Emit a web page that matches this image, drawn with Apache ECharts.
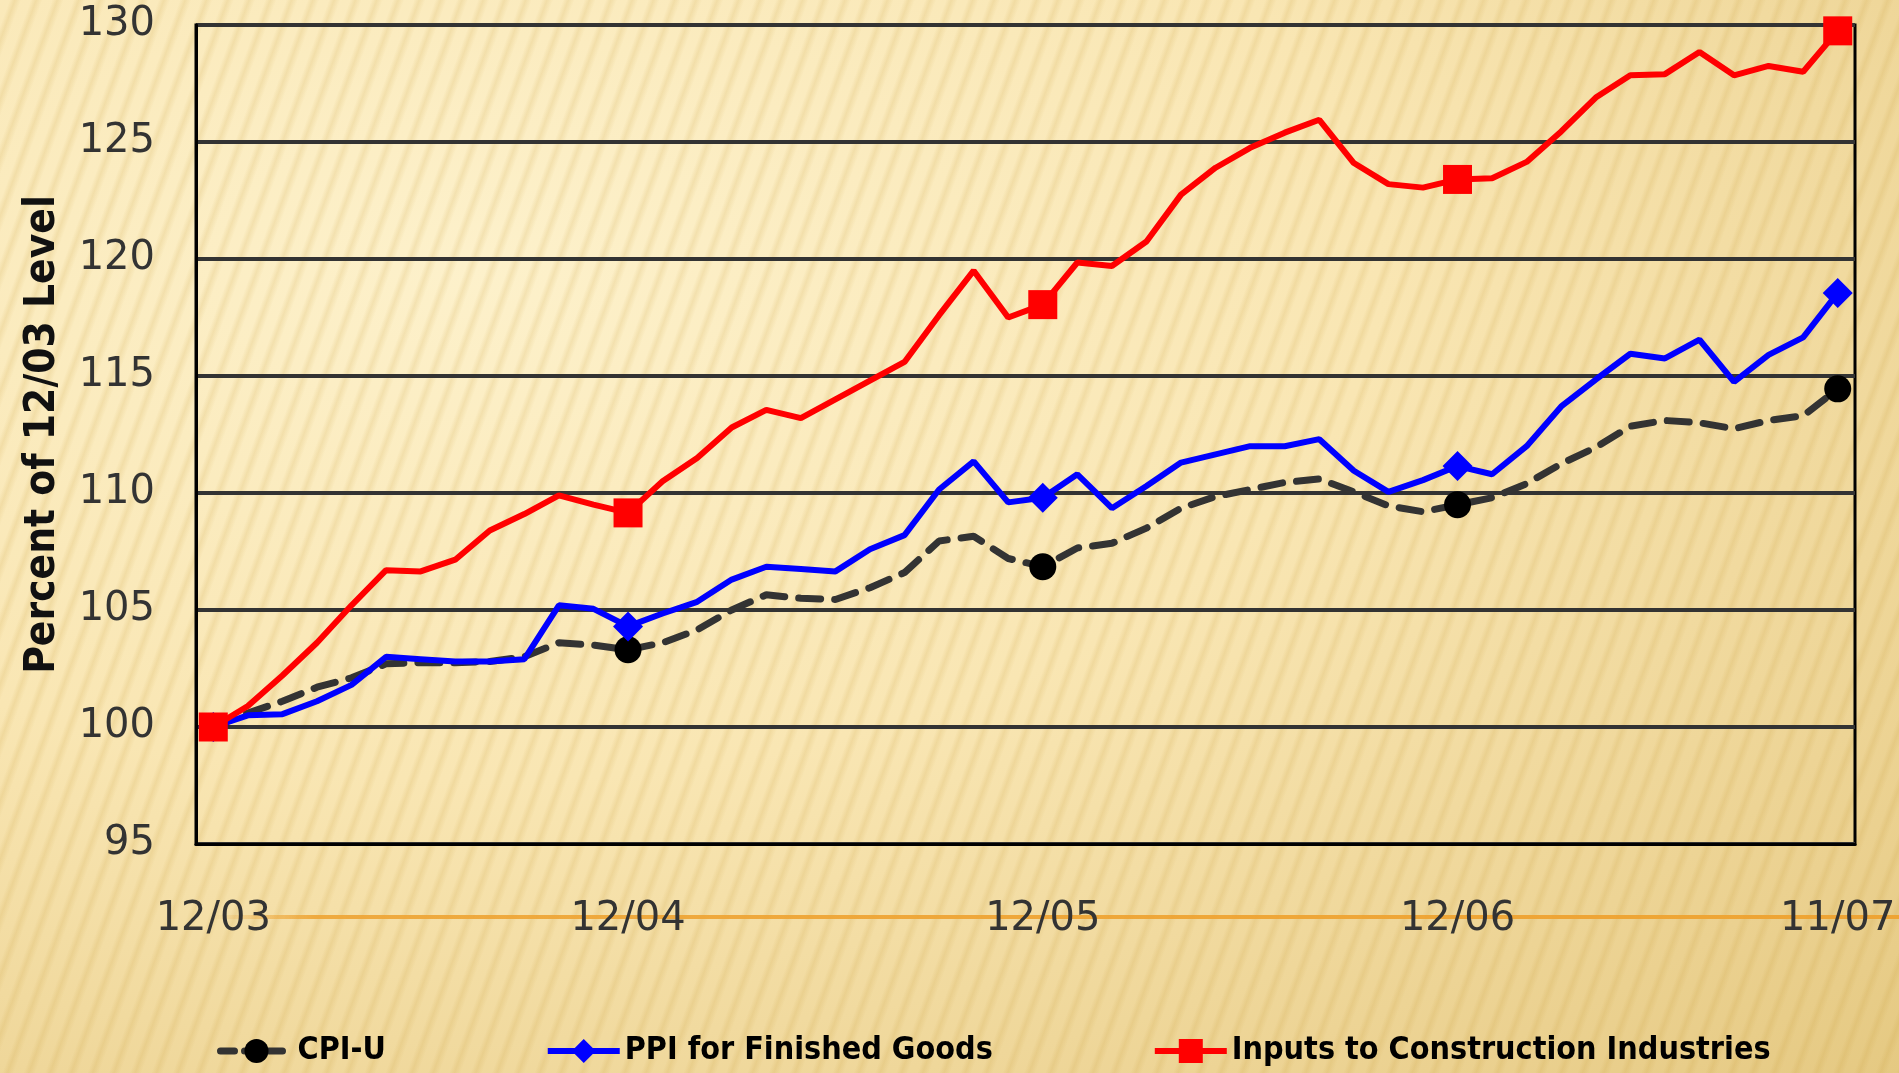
<!DOCTYPE html>
<html>
<head>
<meta charset="utf-8">
<title>Price indices since 12/03</title>
<script src="https://cdn.jsdelivr.net/npm/echarts@6.0.0/dist/echarts.min.js"></script>
<style>
	html, body { margin: 0; padding: 0; }
	#chart1 {
		width: 1899px;
		height: 1073px;
		background:
			repeating-linear-gradient(110deg, rgba(196,152,50,0) 0px, rgba(196,152,50,0) 9px, rgba(196,152,50,0.16) 14px, rgba(196,152,50,0) 20px),
			radial-gradient(ellipse at 25% 25%, #FDF1CB 0%, #F9E6B3 45%, #EBD190 85%, #E5C982 100%);
	}
</style>
</head>
<body>
<div id="chart1"></div>
<script>
// monthly, 12/03 .. 11/07
const months = [
	'12/03',
	'01/04', '02/04', '03/04', '04/04', '05/04', '06/04', '07/04', '08/04', '09/04', '10/04', '11/04', '12/04',
	'01/05', '02/05', '03/05', '04/05', '05/05', '06/05', '07/05', '08/05', '09/05', '10/05', '11/05', '12/05',
	'01/06', '02/06', '03/06', '04/06', '05/06', '06/06', '07/06', '08/06', '09/06', '10/06', '11/06', '12/06',
	'01/07', '02/07', '03/07', '04/07', '05/07', '06/07', '07/07', '08/07', '09/07', '10/07', '11/07'
];

const cpiU = [
	100, 100.6, 101.1, 101.7, 102.1, 102.7, 102.75, 102.75, 102.8, 103.0, 103.6, 103.5,
	103.3, 103.6, 104.15, 105.0, 105.65, 105.5, 105.45, 105.95, 106.6, 107.95, 108.15, 107.2,
	106.85, 107.65, 107.85, 108.5, 109.35, 109.85, 110.15, 110.45, 110.6, 110.05, 109.45, 109.2,
	109.5, 109.8, 110.4, 111.25, 111.95, 112.85, 113.1, 113.0, 112.75, 113.1, 113.3, 114.45
];

const ppiFinished = [
	100, 100.5, 100.55, 101.1, 101.8, 103.0, 102.9, 102.8, 102.8, 102.9, 105.2, 105.05,
	104.3, 104.85, 105.35, 106.3, 106.85, 106.75, 106.65, 107.6, 108.2, 110.15, 111.35, 109.6,
	109.8, 110.8, 109.35, 110.3, 111.3, 111.65, 112.0, 112.0, 112.3, 110.95, 110.05, 110.55,
	111.15, 110.8, 112.0, 113.7, 114.85, 115.95, 115.75, 116.55, 114.75, 115.9, 116.65, 118.55
];

const constructionInputs = [
	100, 100.9, 102.2, 103.6, 105.2, 106.7, 106.65, 107.15, 108.4, 109.1, 109.9, 109.5,
	109.15, 110.5, 111.5, 112.8, 113.55, 113.2, 114.0, 114.8, 115.6, 117.6, 119.5, 117.5,
	118.05, 119.85, 119.7, 120.75, 122.75, 123.9, 124.75, 125.4, 125.95, 124.1, 123.2, 123.05,
	123.4, 123.45, 124.15, 125.45, 126.9, 127.85, 127.9, 128.85, 127.85, 128.25, 128.0, 129.75
];

// points that get a marker and an x label
const markIdx = [0, 12, 24, 36, 47];

const narrowFont = "'DejaVu Sans Condensed', 'Liberation Sans Narrow', 'Liberation Sans', sans-serif";

const markerSize = (size) => (val, params) => markIdx.includes(params.dataIndex) ? size : 0;

const getOption = () => {
	return {
		backgroundColor: 'transparent',
		animation: false,
		grid: {
			left: 196,
			right: 44,
			top: 25,
			bottom: 229,
			show: true,
			borderColor: '#000',
			borderWidth: 3
		},
		graphic: [
			{
				// orange rule behind the date labels
				type: 'line',
				z: -10,
				shape: { x1: 215, y1: 917, x2: 1899, y2: 917 },
				style: {
					lineWidth: 4,
					stroke: new echarts.graphic.LinearGradient(0, 0, 1, 0, [
						{ offset: 0, color: 'rgba(238,164,52,0)' },
						{ offset: 0.06, color: 'rgba(238,164,52,0.9)' },
						{ offset: 1, color: 'rgba(238,164,52,1)' }
					])
				}
			}
		],
		legend: {
			left: 212,
			top: 1030,
			itemGap: 159,
			itemWidth: 72,
			itemHeight: 30,
			textStyle: {
				fontFamily: narrowFont,
				fontWeight: 'bold',
				fontSize: 32,
				color: '#000'
			},
			data: [
				{ name: 'CPI-U', lineStyle: { width: 7, type: [14, 10] } },
				{ name: 'PPI for Finished Goods', lineStyle: { width: 6 } },
				{ name: 'Inputs to Construction Industries', lineStyle: { width: 6 } }
			]
		},
		xAxis: {
			type: 'category',
			data: months,
			boundaryGap: true,
			axisLine: { lineStyle: { color: '#000', width: 3 } },
			axisTick: {
				interval: 5,
				length: 18,
				lineStyle: { color: '#000', width: 2 }
			},
			axisLabel: {
				interval: (i) => markIdx.includes(i),
				margin: 56,
				fontFamily: 'DejaVu Sans',
				fontSize: 40,
				color: '#333'
			},
			splitLine: { show: false }
		},
		yAxis: {
			type: 'value',
			min: 95,
			max: 130,
			interval: 5,
			name: 'Percent of 12/03 Level',
			nameLocation: 'middle',
			nameGap: 132,
			nameTextStyle: {
				fontFamily: narrowFont,
				fontWeight: 'bold',
				fontSize: 42,
				color: '#111'
			},
			axisLine: { show: true, lineStyle: { color: '#000', width: 3 } },
			axisTick: { show: false },
			axisLabel: {
				margin: 41,
				fontFamily: 'DejaVu Sans',
				fontSize: 40,
				color: '#333'
			},
			splitLine: { lineStyle: { color: '#333', width: 4 } }
		},
		series: [
			{
				name: 'CPI-U',
				type: 'line',
				data: cpiU,
				symbol: 'circle',
				symbolSize: markerSize(27),
				showAllSymbol: true,
				lineStyle: { color: '#333', width: 7, type: [22, 14], cap: 'round' },
				itemStyle: { color: '#000' }
			},
			{
				name: 'PPI for Finished Goods',
				type: 'line',
				data: ppiFinished,
				symbol: 'diamond',
				symbolSize: markerSize(30),
				showAllSymbol: true,
				lineStyle: { color: '#0000FF', width: 6 },
				itemStyle: { color: '#0000FF' }
			},
			{
				name: 'Inputs to Construction Industries',
				type: 'line',
				data: constructionInputs,
				symbol: 'rect',
				symbolSize: markerSize(29),
				showAllSymbol: true,
				lineStyle: { color: '#FF0000', width: 6 },
				itemStyle: { color: '#FF0000' }
			}
		]
	};
};

const initCharts = () => {
	const chart1 = echarts.init(document.getElementById('chart1'));
	chart1.setOption(getOption());
};

initCharts();
</script>
</body>
</html>
